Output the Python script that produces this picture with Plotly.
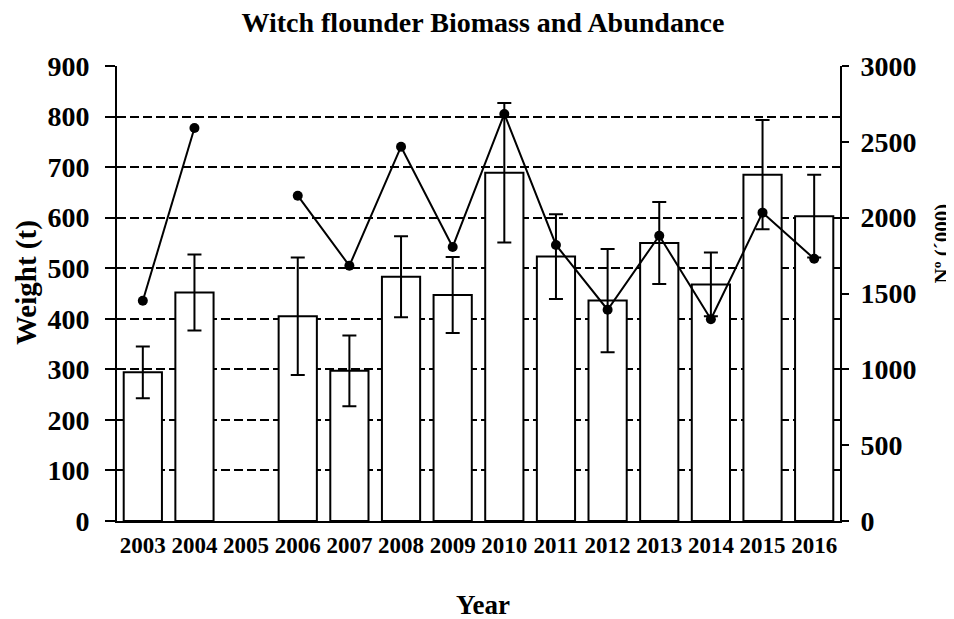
import plotly.graph_objects as go

years = ["2003", "2004", "2005", "2006", "2007", "2008", "2009", "2010",
         "2011", "2012", "2013", "2014", "2015", "2016"]
biomass = [294, 452, None, 405, 297, 483, 447, 689, 523, 436, 550, 468, 685, 603]
biomass_err = [51, 75, None, 116, 70, 80, 75, 138, 84, 102, 81, 63, 108, 82]
abundance = [1452, 2591, None, 2145, 1683, 2468, 1807, 2684, 1820, 1393, 1881, 1330, 2033, 1729]

FONT = "Liberation Serif, Times New Roman, serif"

fig = go.Figure()
fig.add_trace(go.Bar(
    x=years, y=biomass, yaxis="y",
    marker=dict(color="white", line=dict(color="black", width=2)),
    width=0.74,
    error_y=dict(type="data", array=biomass_err, visible=True,
                 color="black", thickness=2, width=7),
    showlegend=False,
))
fig.add_trace(go.Scatter(
    x=years, y=abundance, yaxis="y2", mode="lines+markers",
    line=dict(color="black", width=2),
    marker=dict(color="black", size=10, symbol="circle"),
    connectgaps=False, showlegend=False,
))

fig.update_layout(
    width=946, height=611, autosize=False,
    margin=dict(l=109, r=114, t=58, b=98),
    paper_bgcolor="white", plot_bgcolor="white",
    font=dict(family=FONT, color="black"),
    title=dict(text="Witch flounder Biomass and Abundance",
               x=0.502, xanchor="center", y=0.977, yanchor="middle",
               font=dict(family=FONT, size=28, weight=700, color="black")),
    xaxis=dict(type="category", range=[-0.5, 13.5], showline=True,
               linecolor="black", linewidth=2, ticks="", showgrid=False,
               zeroline=False, ticklabelstandoff=2,
               tickfont=dict(family=FONT, size=23, weight=700, color="black")),
    yaxis=dict(range=[0, 900], dtick=100, tick0=0, showline=True,
               linecolor="black", linewidth=2, ticks="outside", ticklen=10,
               tickwidth=2, tickcolor="black", showgrid=True,
               gridcolor="black", gridwidth=1.5, griddash="9px,4px",
               zeroline=False, ticklabelstandoff=10,
               tickfont=dict(family=FONT, size=28, weight=700, color="black")),
    yaxis2=dict(range=[0, 3000], dtick=500, tick0=0, overlaying="y",
                side="right", showline=True, linecolor="black", linewidth=2,
                ticks="outside", ticklen=7, tickwidth=2, tickcolor="black",
                showgrid=False, zeroline=False, ticklabelstandoff=6,
                tickfont=dict(family=FONT, size=28, weight=700, color="black")),
    annotations=[
        dict(text="Year", xref="paper", yref="paper", x=0.506, y=-0.185,
             xanchor="center", yanchor="middle", showarrow=False,
             font=dict(family=FONT, size=27, weight=700, color="black")),
        dict(text="Weight (t)", xref="paper", yref="paper", x=-0.126, y=0.525,
             xanchor="center", yanchor="middle", showarrow=False, textangle=-90,
             font=dict(family=FONT, size=29, weight=700, color="black")),
        dict(text="Nº (´000)", xref="paper", yref="paper", x=1.1405, y=0.609,
             xanchor="center", yanchor="middle", showarrow=False, textangle=-90,
             font=dict(family=FONT, size=21, weight=700, color="black")),
    ],
)

fig.write_html("out.html")
